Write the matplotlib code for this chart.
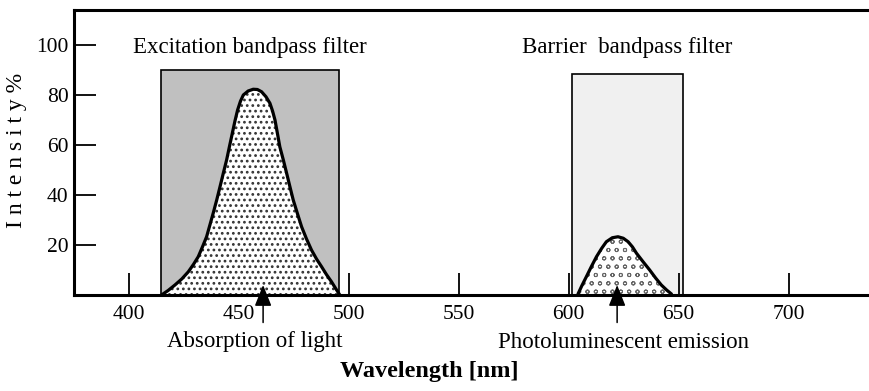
import numpy as np
import matplotlib
matplotlib.use("Agg")
import matplotlib.pyplot as plt

# filter passbands (nm) and transmission heights (%)
filter_names = ["Excitation bandpass filter", "Barrier  bandpass filter"]
filter_lo = [414.5, 601.5]
filter_hi = [495.5, 652.0]
filter_top = [90, 88.4]
filter_colors = ["#c0c0c0", "#f0f0f0"]

# absorption band
abs_nm = [414.8, 417.8, 420.9, 424.0, 427.0, 429.3, 431.5, 433.4, 435.3, 436.8, 438.3,
          439.9, 441.4, 442.9, 444.4, 445.7, 447.0, 448.2, 449.4, 450.7, 452.0, 454.2,
          456.5, 458.4, 460.3, 462.3, 464.1, 465.3, 466.4, 467.5, 468.6, 470.2, 471.7,
          473.2, 474.7, 476.6, 478.5, 480.7, 483.0, 485.3, 487.6, 489.8, 492.1, 494.0, 495.9]
abs_val = [0.0, 1.8, 4.0, 6.4, 9.3, 12.2, 15.3, 19.2, 23.3, 28.0, 32.7,
           38.0, 43.3, 48.7, 54.0, 59.4, 64.7, 69.6, 74.0, 77.5, 80.0, 81.6,
           82.3, 82.2, 81.3, 79.3, 76.7, 73.6, 70.0, 64.7, 59.3, 54.0, 48.7,
           43.3, 38.0, 32.6, 27.3, 22.5, 18.0, 14.4, 11.3, 8.2, 5.3, 2.6, 0.0]

# photoluminescent emission band
em_nm = [604.2, 606.0, 608.0, 610.3, 612.6, 615.0, 617.1, 619.8, 622.4, 624.8, 627.0,
         629.0, 630.8, 633.8, 636.8, 639.5, 642.1, 644.5, 646.7]
em_val = [0.4, 3.8, 7.3, 11.4, 15.3, 18.7, 21.3, 22.9, 23.3, 22.7, 21.3,
          19.2, 16.7, 13.3, 10.0, 6.8, 4.0, 2.0, 0.4]

arrow_x = [461, 622]
bottom_labels = ["Absorption of light", "Photoluminescent emission"]
bottom_label_x = [457.3, 625.0]

xticks = [400, 450, 500, 550, 600, 650, 700]
yticks = [20, 40, 60, 80, 100]

plt.rcParams["font.family"] = ["Liberation Serif", "DejaVu Serif"]

fig = plt.figure(figsize=(8.7, 3.91), dpi=100)
ax = fig.add_axes([74 / 870, 96 / 391, 796 / 870, 285 / 391])

# filters
for lo, hi, top, c in zip(filter_lo, filter_hi, filter_top, filter_colors):
    ax.bar(lo, top, width=hi - lo, align="edge", color=c, edgecolor="black",
           linewidth=1.2, zorder=1)

# bands
plt.rcParams["hatch.linewidth"] = 1.2
ax.fill_between(abs_nm, abs_val, color="white", edgecolor="#333333", hatch="...",
                linewidth=0, zorder=2)
ax.plot(abs_nm, abs_val, color="black", lw=2.3, zorder=3, solid_capstyle="round")
plt.rcParams["hatch.linewidth"] = 0.7
ax.fill_between(em_nm, em_val, color="white", edgecolor="#666666", hatch="oo",
                linewidth=0, zorder=2)
ax.plot(em_nm, em_val, color="black", lw=2.3, zorder=3, solid_capstyle="round")

# arrows from below the axis
for xa in arrow_x:
    ax.annotate("", xy=(xa, 4), xytext=(xa, -11), annotation_clip=False,
                arrowprops=dict(arrowstyle="-|>,head_length=1.0,head_width=0.4",
                                mutation_scale=13, color="black", lw=1.1,
                                shrinkA=0, shrinkB=0), zorder=5)

for name, lo, hi in zip(filter_names, filter_lo, filter_hi):
    ax.text((lo + hi) / 2, 99.2, name, ha="center", va="center", fontsize=16.5)
for lab, xl in zip(bottom_labels, bottom_label_x):
    ax.text(xl, -18.8, lab, ha="center", va="center", fontsize=16.5)

ax.set_xlim(375, 737)
ax.set_ylim(0, 114)
ax.set_xticks(xticks)
ax.set_yticks(yticks)
ax.tick_params(direction="in", length=16, width=1.3, labelsize=15.5)
ax.tick_params(axis="x", pad=7)
ax.tick_params(axis="y", pad=4)
for s in ["left", "bottom", "top"]:
    ax.spines[s].set_linewidth(2.2)
ax.spines["right"].set_visible(False)

fig.text(429 / 870, 20 / 391, "Wavelength [nm]", ha="center", va="center",
         fontsize=17.5, fontweight="bold")
fig.text(17 / 870, 241 / 391, "I n t e n s i t y %", ha="center", va="center",
         rotation=90, fontsize=17)

fig.savefig("out.png", dpi=100)
